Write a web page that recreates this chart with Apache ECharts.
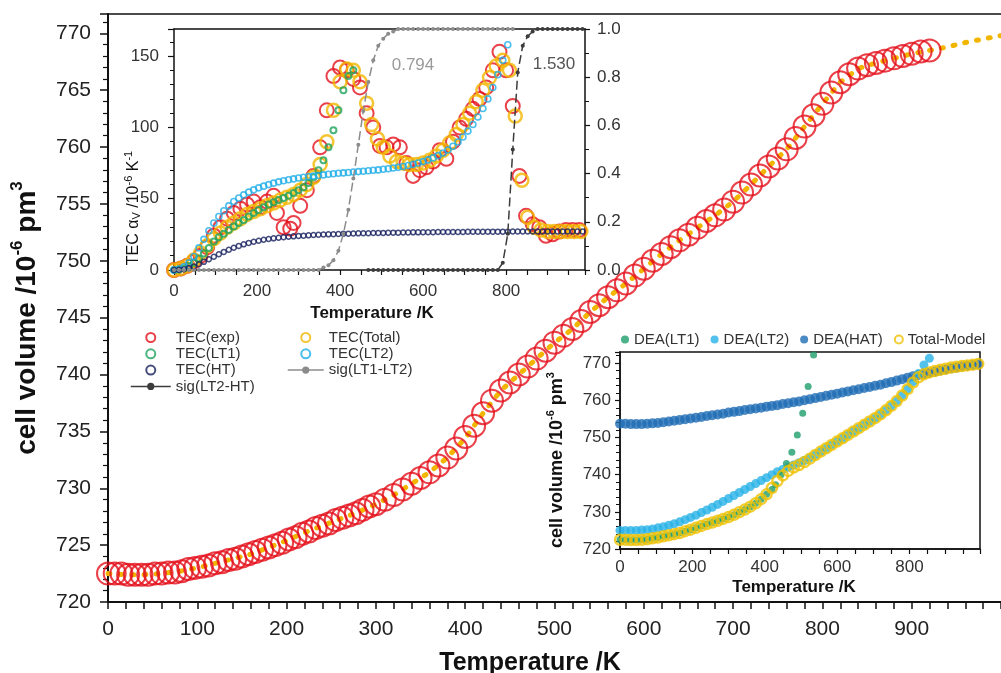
<!DOCTYPE html>
<html><head><meta charset="utf-8">
<script src="https://cdn.jsdelivr.net/npm/echarts@6/dist/echarts.min.js"></script>
<style>html,body{margin:0;padding:0;background:#fff}#c{width:1001px;height:673px}</style>
</head><body><div id="c"></div>
<script>
const FONT = "'Liberation Sans', Arial, sans-serif";

// ---------- main chart: cell volume vs temperature ----------
const mainExpT = [0,7.5,15,22.5,30,37.5,45,52.5,60,67.5,75,82.5,90,97.5,105,112.5,120,127.5,135,142.5,150,157.5,165,172.5,180,187.5,195,202.5,210,217.5,225,232.5,240,247.5,255,262.5,270,277.5,285,292.5,300,
  310,320,330,340,350,360,370,380,390,400,410,420,430,440,450,460,470,480,490,500,510,520,530,540,550,560,570,580,590,600,610,620,630,640,650,660,670,680,690,700,710,720,730,740,750,760,770,780,790,800,810,820,830,840,850,860,870,880,890,900,910,920];
const mainExpV = [722.5,722.5,722.5,722.4,722.4,722.4,722.4,722.5,722.5,722.6,722.6,722.7,722.9,723.0,723.1,723.2,723.4,723.5,723.7,723.8,724.0,724.2,724.4,724.6,724.8,725.0,725.2,725.5,725.7,726.0,726.2,726.5,726.7,726.9,727.2,727.4,727.6,727.8,728.1,728.4,728.6,
  729.0,729.4,729.9,730.4,730.9,731.4,732.0,732.7,733.5,734.5,735.5,736.6,737.7,738.6,739.3,740.0,740.7,741.4,742.1,742.8,743.4,744.0,744.7,745.5,746.1,746.8,747.4,748.0,748.7,749.3,750.0,750.6,751.2,751.8,752.3,752.9,753.5,754.0,754.5,755.2,756.0,756.7,757.5,758.3,759.0,759.8,760.8,761.8,762.8,763.8,764.8,765.7,766.4,766.9,767.2,767.4,767.6,767.8,768.0,768.2,768.4,768.5];
const mainModelT = [0,20,40,60,80,100,120,140,160,180,200,220,240,260,280,300,320,340,360,380,400,420,440,460,480,500,520,540,560,580,600,620,640,660,680,700,720,740,760,780,800,820,840,860,880,900,920,940,960,980,1000];
const mainModelV = [722.5,722.4,722.4,722.5,722.7,723.0,723.4,723.8,724.2,724.8,725.4,726.1,726.7,727.3,727.9,728.6,729.4,730.4,731.4,732.7,734.4,736.6,738.6,740.0,741.4,742.8,744.0,745.5,746.8,748.0,749.3,750.6,751.8,752.9,754.0,755.2,756.7,758.3,759.8,761.8,763.8,765.7,766.9,767.4,767.8,768.2,768.5,768.8,769.2,769.5,769.8];

// ---------- inset 1: TEC ----------
const tecGrid = [0,12,24,36,48,60,72,84,96,108,120,132,144,156,168,180,192,204,216,228,240,252,264,276,288,300,312,324,336,348,360,372,384,396,408,420,432,444,456,468,480,492,504,516,528,540,552,564,576,588,600,612,624,636,648,660,672,684,696,708,720,732,744,756,768,780,792,804,816,828,840,852,864,876,888,900,912,924,936,948,960,972,984];
const tecHT = [0,0.15,0.6,1.4,2.5,4.0,5.7,7.5,9.3,11.0,
  12.7,14.2,15.6,16.9,18.0,19.0,19.8,20.5,21.2,21.7,
  22.2,22.6,23.0,23.3,23.6,23.9,24.1,24.3,24.5,24.7,
  24.9,25.0,25.1,25.2,25.4,25.5,25.6,25.7,25.8,25.8,
  25.9,26.0,26.0,26.1,26.2,26.2,26.3,26.3,26.4,26.4,
  26.5,26.5,26.5,26.6,26.6,26.6,26.7,26.7,26.7,26.8,
  26.8,26.8,26.8,26.9,26.9,26.9,26.9,26.9,27.0,27.0,
  27.0,27.0,27.0,27.0,27.0,27.0,27.0,27.0,27.0,27.0,
  27.0,27.0,27.0];
const tecLT2 = [0,0.7,2.3,5.0,9.5,15.5,21.5,27.5,33.0,37.5,
  41.5,45.0,48.0,50.5,52.7,54.6,56.2,57.6,58.8,59.9,
  60.9,61.8,62.6,63.3,63.9,64.5,65.0,65.5,65.9,66.3,
  66.7,67.1,67.5,67.8,68.1,68.4,68.7,69.0,69.3,69.6,
  69.9,70.2,70.6,71.0,71.5,72.0,72.6,73.3,74.1,75.0,
  76.0,77.2,78.6,80.2,82.0,84.2,86.8,89.8,93.3,97.4,
  102.0,107.3,113.3,120.0,128.0,137.0,147.0,158.0,170.0];
const tecLT1 = [0,0.3,1.2,2.8,5.0,8.0,11.5,15.5,20.0,23.0,
  25.5,28.0,30.5,33.0,35.0,37.5,40.0,42.0,44.0,46.0,
  47.5,49.0,50.5,52.0,54.0,56.0,58.0,61.0,65.0,70.0,
  77.0,86.0,98.0,112.0,126.0,136.0,140.0];
const sigLT1LT2 = [0,0,0,0,0,0,0,0,0,0,0,0,0,0,0,0,0,0,0,0,0,0,0,0,0,0,0,0,0,0,
  0.01,0.02,0.04,0.08,0.15,0.25,0.38,0.52,0.66,0.78,0.87,0.93,0.96,0.98,0.99,
  1,1,1,1,1,1,1,1,1,1,1,1,1,1,1,1,1,1,1,1,1,1,1,1];
const sigLT2HT = [0,0,0,0,0,0,0,0,0,0,0,0,0,0,0,0,0,0,0,0,0,0,0,0,0,0,0,
  0.03,0.15,0.5,0.82,0.93,0.97,0.99,
  1,1,1,1,1,1,1,1,1,1];
const tecExpT = [0,16,32,48,64,80,96,112,128,144,160,176,192,208,224,240,248,264,280,288,304,320,336,352,368,384,400,416,432,448,464,480,496,512,528,544,560,576,592,608,624,640,656,672,688,704,720,736,752,768,784,800,816,832,848,864,880,896,912,928,944,960,976];
const tecExpV = [0,1,3,6,10,16,24,30,36,40,43,46,48,44,48,52,40,30,29,33,45,56,66,86,112,136,142,140,134,128,110,100,87,86,88,86,75,66,70,72,76,84,78,90,100,106,113,120,128,140,153,140,115,66,38,32,30,24,25,27,28,28,28];
const tecTotT = [0,16,32,48,64,80,96,112,128,144,160,176,192,208,224,240,256,272,288,304,320,336,352,368,384,400,416,432,448,464,476,490,504,520,536,552,568,584,600,616,632,648,664,680,696,712,728,744,760,776,792,808,822,838,852,868,884,900,916,932,948,964,980];
const tecTotV = [0,1,3,7,12,17,22,26,30,33,36,39,41,43,45,47,49,51,53,56,60,65,74,90,112,132,141,140,132,117,102,92,86,80,76,75,74,74,75,77,80,84,89,95,102,110,118,126,135,143,147,140,108,63,37,30,28,27,27,27,27,27,27];

// ---------- inset 2: DEA volumes ----------
const deaT = [0,15,30,45,60,75,90,105,120,135,150,165,180,195,210,225,240,255,270,285,300,315,330,345,360,375,390,405,420,435,450,465,480,495,510,525,540,555,570,585,600,615,630,645,660,675,690,705,720,735,750,765,780,795,810,825,840,855,870,885,900,915,930,945,960,975,990];
const deaHAT = [753.7,753.7,753.6,753.6,753.6,753.7,753.8,753.9,754.1,754.3,
  754.5,754.7,754.9,755.1,755.3,755.5,755.8,756.0,756.2,756.4,
  756.7,756.9,757.1,757.4,757.6,757.8,758.0,758.3,758.5,758.7,
  759.0,759.2,759.5,759.7,760.0,760.3,760.6,760.9,761.2,761.5,
  761.8,762.1,762.4,762.7,763.0,763.3,763.6,763.9,764.2,764.6,
  764.9,765.3,765.7,766.1,766.5,766.8,767.1,767.4,767.7,768.0,
  768.3,768.6,768.8,769.1,769.3,769.5,769.7];
const deaTot = [722.5,722.5,722.4,722.4,722.5,722.6,722.9,723.1,723.4,723.7,
  724.0,724.3,724.8,725.2,725.7,726.2,726.7,727.1,727.6,728.1,
  728.6,729.2,729.9,730.6,731.4,732.3,733.4,734.7,736.4,738.3,
  739.8,741.0,741.9,742.6,743.4,744.3,745.3,746.2,747.1,748.0,
  748.9,749.8,750.7,751.6,752.5,753.4,754.3,755.2,756.2,757.3,
  758.5,759.8,761.3,763.0,764.8,766.2,767.0,767.5,767.9,768.2,
  768.5,768.8,769.0,769.2,769.4,769.6,769.8];
const deaLT2 = [725.0,725.0,725.0,725.0,725.1,725.2,725.4,725.7,726.0,726.4,
  726.8,727.3,727.9,728.5,729.1,729.8,730.5,731.2,732.0,732.8,
  733.6,734.4,735.2,736.0,736.8,737.6,738.4,739.2,740.0,740.8,
  741.4,742.0,742.6,743.2,743.8,744.5,745.3,746.2,747.1,748.0,
  748.9,749.8,750.7,751.6,752.5,753.4,754.3,755.2,756.2,757.3,
  758.5,759.8,761.3,763.0,765.0,767.2,769.5,771.3];
const deaLT1T = [0,15,30,45,60,75,90,105,120,135,150,165,180,195,210,225,240,255,270,285,300,315,330,345,360,375,390,405,420,430,445,460,475,490,505,520,535];
const deaLT1V = [722.5,722.5,722.4,722.4,722.5,722.6,722.9,723.1,723.4,723.7,
  724.0,724.3,724.8,725.2,725.7,726.2,726.7,727.1,727.6,728.1,
  728.6,729.2,729.9,730.6,731.4,732.3,733.4,734.7,736.0,
  737.3,740.0,743.0,746.0,750.7,756.5,763.7,772.2];

const zip = (xs, ys) => ys.map((v, i) => [xs[i], v]);

const C = {
  red: '#e3101b', yellow: '#f2b600', green: '#1fa35e', cyan: '#1eaee8', navy: '#17205e',
  grayS: '#8c8c8c', darkS: '#3c3c3c', hat: '#1f6db5', dGreen: '#1e9d6c', dCyan: '#27b1e6', dYellow: '#efc100'
};

function axisBase(o) {
  return Object.assign({
    type: 'value',
    splitLine: { show: false },
    axisLine: { show: true, onZero: false, lineStyle: { color: '#111', width: 1.5 } },
    axisTick: { show: true, inside: false, length: 5, lineStyle: { color: '#111', width: 1.2 } },
    axisLabel: { fontFamily: FONT, fontSize: 17, color: '#333' }
  }, o);
}
const lineOnly = (grid, pos, min, max) => ({
  type: 'value', gridIndex: grid, position: pos, min: min, max: max,
  axisLine: { show: true, onZero: false, lineStyle: { color: '#111', width: 1.5 } },
  axisTick: { show: false }, axisLabel: { show: false }, splitLine: { show: false }
});

const chart = echarts.init(document.getElementById('c'), null, { renderer: 'canvas' });

const supTitle = (main, sup1, mid, sup2, size, bold) => ({
  text: '{a|' + main + '}{s|' + sup1 + '}{a|' + mid + '}{s|' + sup2 + '}',
  rich: {
    a: { fontSize: size, fontWeight: bold ? 'bold' : 'normal', fontFamily: FONT, fill: '#111' },
    s: { fontSize: Math.round(size * 0.6), fontWeight: bold ? 'bold' : 'normal', fontFamily: FONT, fill: '#111', padding: [0, 0, Math.round(size * 0.7), 0] }
  },
  align: 'center', verticalAlign: 'middle'
});

const legText = { fontFamily: FONT, fontSize: 15, color: '#333', lineHeight: 14 };

const option = {
  animation: false,
  backgroundColor: '#fff',
  grid: [
    { left: 108, right: 0, top: 14, bottom: 71 },
    { left: 174, top: 29, width: 411, height: 241, show: true, backgroundColor: '#fff', borderWidth: 0 },
    { left: 620, top: 352, width: 360, height: 197, show: true, backgroundColor: '#fff', borderColor: '#111', borderWidth: 1.5 }
  ],
  xAxis: [
    axisBase({ gridIndex: 0, position: 'bottom', min: 0, max: 1000, interval: 100,
      axisLine: { show: true, onZero: false, lineStyle: { color: '#111', width: 2 } },
      axisTick: { show: true, length: 7, lineStyle: { color: '#111', width: 1.5 } },
      minorTick: { show: true, splitNumber: 5, length: 7, lineStyle: { color: '#111', width: 1.5 } },
      axisLabel: { fontFamily: FONT, fontSize: 21, color: '#222', margin: 17, showMaxLabel: false } }),
    lineOnly(0, 'top', 0, 1000),
    axisBase({ gridIndex: 1, position: 'bottom', min: 0, max: 990, interval: 200,
      minorTick: { show: true, splitNumber: 4, length: 5, lineStyle: { color: '#111', width: 1.2 } },
      axisLabel: { fontFamily: FONT, fontSize: 17, color: '#333', margin: 13, showMaxLabel: false } }),
    lineOnly(1, 'top', 0, 990),
    axisBase({ gridIndex: 2, position: 'bottom', min: 0, max: 995, interval: 200,
      minorTick: { show: true, splitNumber: 4, length: 5, lineStyle: { color: '#111', width: 1.2 } },
      axisLabel: { fontFamily: FONT, fontSize: 17, color: '#333', margin: 10, showMaxLabel: false } })
  ],
  yAxis: [
    axisBase({ gridIndex: 0, position: 'left', min: 720, max: 771.7, interval: 5,
      axisLine: { show: true, onZero: false, lineStyle: { color: '#111', width: 2 } },
      axisTick: { show: true, length: 8, lineStyle: { color: '#111', width: 1.5 } },
      minorTick: { show: true, splitNumber: 5, length: 5, lineStyle: { color: '#111', width: 1.2 } },
      axisLabel: { fontFamily: FONT, fontSize: 21, color: '#222', margin: 17, showMaxLabel: false } }),
    axisBase({ gridIndex: 1, position: 'left', min: 0, max: 169, interval: 50,
      axisTick: { show: true, length: 6, lineStyle: { color: '#111', width: 1.2 } },
      minorTick: { show: true, splitNumber: 5, length: 4, lineStyle: { color: '#111', width: 1 } },
      axisLabel: { fontFamily: FONT, fontSize: 17, color: '#333', margin: 15, showMaxLabel: false } }),
    axisBase({ gridIndex: 1, position: 'right', min: 0, max: 1, interval: 0.2,
      minorTick: { show: true, splitNumber: 2, length: 4, lineStyle: { color: '#111', width: 1 } },
      axisLabel: { fontFamily: FONT, fontSize: 17, color: '#333', margin: 12, formatter: v => v.toFixed(1) } }),
    axisBase({ gridIndex: 2, position: 'left', min: 720, max: 773, interval: 10,
      minorTick: { show: true, splitNumber: 5, length: 4, lineStyle: { color: '#111', width: 1 } },
      axisLabel: { fontFamily: FONT, fontSize: 17, color: '#333', margin: 9, showMaxLabel: false } })
  ],
  legend: [
    { orient: 'vertical', left: 130, top: 330, padding: 0, itemWidth: 40, itemHeight: 9, itemGap: 1.3, selectedMode: false,
      data: ['TEC(exp)', 'TEC(LT1)', 'TEC(HT)', 'sig(LT2-HT)'],
      lineStyle: { type: 'solid', width: 1.5 },
      textStyle: legText },
    { orient: 'vertical', left: 287, top: 330, padding: 0, itemWidth: 36, itemHeight: 9, itemGap: 1.3, selectedMode: false,
      data: ['TEC(Total)', 'TEC(LT2)', 'sig(LT1-LT2)'],
      lineStyle: { type: 'solid', width: 1.5 },
      textStyle: legText },
    { orient: 'horizontal', left: 621, top: 332, padding: 0, itemWidth: 8, itemHeight: 8, itemGap: 11, selectedMode: false,
      data: ['DEA(LT1)', 'DEA(LT2)', 'DEA(HAT)', 'Total-Model'],
      textStyle: { fontFamily: FONT, fontSize: 15, color: '#333' } }
  ],
  graphic: [
    { type: 'text', x: 530, y: 663, style: { text: 'Temperature /K', font: 'bold 25px ' + FONT, fill: '#111', align: 'center', verticalAlign: 'middle' } },
    { type: 'text', x: 27, y: 318, rotation: Math.PI / 2, style: supTitle('cell volume /10', '-6', ' pm', '3', 28, true) },
    { type: 'text', x: 372, y: 313, style: { text: 'Temperature /K', font: 'bold 17px ' + FONT, fill: '#111', align: 'center', verticalAlign: 'middle' } },
    { type: 'text', x: 794, y: 587, style: { text: 'Temperature /K', font: 'bold 17px ' + FONT, fill: '#111', align: 'center', verticalAlign: 'middle' } },
    { type: 'text', x: 557, y: 460, rotation: Math.PI / 2, style: supTitle('cell volume /10', '-6', ' pm', '3', 18, true) },
    { type: 'text', x: 134, y: 208, rotation: Math.PI / 2, style: {
        text: '{a|TEC α}{b|V}{a| /10}{s|-6}{a| K}{s|-1}',
        rich: {
          a: { fontSize: 16, fontFamily: FONT, fill: '#111' },
          b: { fontSize: 11, fontFamily: FONT, fill: '#111', padding: [6, 0, 0, 0] },
          s: { fontSize: 11, fontFamily: FONT, fill: '#111', padding: [0, 0, 10, 0] }
        },
        align: 'center', verticalAlign: 'middle' } },
    { type: 'text', x: 413, y: 65, style: { text: '0.794', font: '17px ' + FONT, fill: '#9a9a9a', align: 'center', verticalAlign: 'middle' } },
    { type: 'text', x: 554, y: 64, style: { text: '1.530', font: '17px ' + FONT, fill: '#555', align: 'center', verticalAlign: 'middle' } }
  ],
  series: [
    // main
    { name: 'V(model)', type: 'line', xAxisIndex: 0, yAxisIndex: 0, data: zip(mainModelT, mainModelV), symbol: 'none', z: 2,
      lineStyle: { color: C.yellow, width: 5, type: [2, 10], cap: 'round' } },
    { name: 'V(exp)', type: 'scatter', xAxisIndex: 0, yAxisIndex: 0, data: zip(mainExpT, mainExpV), symbol: 'circle', symbolSize: 22, z: 3,
      itemStyle: { color: 'rgba(255,255,255,0)', borderColor: C.red, borderWidth: 2 } },
    // inset 1
    { name: 'TEC(exp)', type: 'scatter', xAxisIndex: 2, yAxisIndex: 1, data: zip(tecExpT, tecExpV), symbol: 'circle', symbolSize: 14, z: 3,
      itemStyle: { color: 'rgba(255,255,255,0)', borderColor: C.red, borderWidth: 2 } },
    { name: 'TEC(Total)', type: 'scatter', xAxisIndex: 2, yAxisIndex: 1, data: zip(tecTotT, tecTotV), symbol: 'circle', symbolSize: 13, z: 4,
      itemStyle: { color: 'rgba(255,255,255,0)', borderColor: C.yellow, borderWidth: 2.5 } },
    { name: 'TEC(LT1)', type: 'scatter', xAxisIndex: 2, yAxisIndex: 1, data: zip(tecGrid, tecLT1), symbol: 'circle', symbolSize: 6, z: 5,
      itemStyle: { color: 'rgba(255,255,255,0)', borderColor: C.green, borderWidth: 2 } },
    { name: 'TEC(LT2)', type: 'scatter', xAxisIndex: 2, yAxisIndex: 1, data: zip(tecGrid, tecLT2), symbol: 'circle', symbolSize: 6, z: 6,
      itemStyle: { color: 'rgba(255,255,255,0)', borderColor: C.cyan, borderWidth: 1.6 } },
    { name: 'TEC(HT)', type: 'scatter', xAxisIndex: 2, yAxisIndex: 1, data: zip(tecGrid, tecHT), symbol: 'circle', symbolSize: 5, z: 7,
      itemStyle: { color: 'rgba(255,255,255,0)', borderColor: C.navy, borderWidth: 1.5 } },
    { name: 'sig(LT1-LT2)', type: 'line', xAxisIndex: 2, yAxisIndex: 2, data: zip(tecGrid, sigLT1LT2), symbol: 'circle', symbolSize: 4, z: 8,
      itemStyle: { color: C.grayS }, lineStyle: { color: C.grayS, width: 1.5, type: [9, 4] } },
    { name: 'sig(LT2-HT)', type: 'line', xAxisIndex: 2, yAxisIndex: 2, data: zip(tecGrid.slice(39), sigLT2HT), symbol: 'circle', symbolSize: 4, z: 8,
      itemStyle: { color: C.darkS }, lineStyle: { color: C.darkS, width: 1.5, type: [9, 4] } },
    // inset 2
    { name: 'DEA(HAT)', type: 'scatter', xAxisIndex: 4, yAxisIndex: 3, data: zip(deaT, deaHAT), symbol: 'circle', symbolSize: 10, z: 3,
      itemStyle: { color: C.hat } },
    { name: 'DEA(LT2)', type: 'scatter', xAxisIndex: 4, yAxisIndex: 3, data: zip(deaT, deaLT2), symbol: 'circle', symbolSize: 9, z: 4,
      itemStyle: { color: C.dCyan } },
    { name: 'DEA(LT1)', type: 'scatter', xAxisIndex: 4, yAxisIndex: 3, data: zip(deaLT1T, deaLT1V), symbol: 'circle', symbolSize: 7, z: 5,
      itemStyle: { color: C.dGreen } },
    { name: 'Total-Model', type: 'scatter', xAxisIndex: 4, yAxisIndex: 3, data: zip(deaT, deaTot), symbol: 'circle', symbolSize: 10, z: 6,
      itemStyle: { color: 'rgba(255,255,255,0)', borderColor: C.dYellow, borderWidth: 2.5 } }
  ]
};
chart.setOption(option);
</script>
</body></html>
